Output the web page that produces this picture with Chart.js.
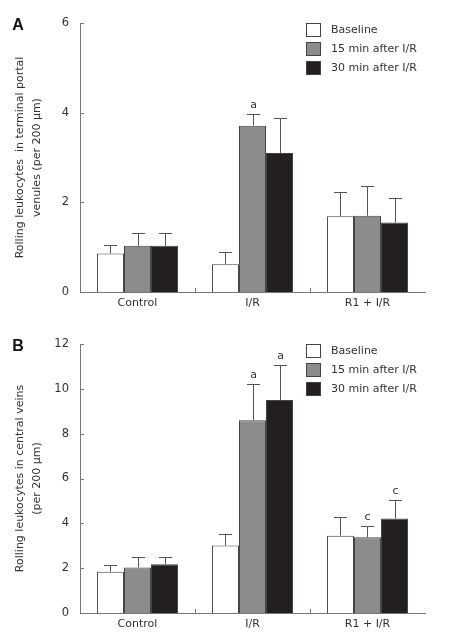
<!DOCTYPE html>
<html>
<head>
<meta charset="utf-8">
<script src="https://cdn.jsdelivr.net/npm/chart.js@4.4.1/dist/chart.umd.min.js"></script>
<style>
body { margin: 0; background: #fff; }
canvas { display: block; }
</style>
</head>
<body>
<canvas id="chartA" width="450" height="320"></canvas>
<canvas id="chartB" width="450" height="321"></canvas>
<script>
const groups = ['Control', 'I/R', 'R1 + I/R'];
const seriesNames = ['Baseline', '15 min after I/R', '30 min after I/R'];
const seriesColors = ['#ffffff', '#8c8c8e', '#231f20'];

// A: terminal portal venules
const baselineA = [0.86, 0.62, 1.69];
const min15A = [1.03, 3.71, 1.70];
const min30A = [1.03, 3.10, 1.55];
const baselineErrA = [0.19, 0.28, 0.53];
const min15ErrA = [0.29, 0.26, 0.66];
const min30ErrA = [0.28, 0.79, 0.55];
const baselineMarkA = ['', '', ''];
const min15MarkA = ['', 'a', ''];
const min30MarkA = ['', '', ''];

// B: central veins
const baselineB = [1.84, 3.01, 3.45];
const min15B = [2.03, 8.6, 3.38];
const min30B = [2.18, 9.5, 4.22];
const baselineErrB = [0.32, 0.52, 0.85];
const min15ErrB = [0.47, 1.6, 0.49];
const min30ErrB = [0.32, 1.55, 0.83];
const baselineMarkB = ['', '', ''];
const min15MarkB = ['', 'a', 'c'];
const min30MarkB = ['', 'a', 'c'];

const FONT = 'DejaVu Sans';
const TEXT = '#333';
const AXIS = '#777';

const errorBarPlugin = {
    id: 'errorBars',
    afterDatasetsDraw(chart) {
        const ctx = chart.ctx;
        const y = chart.scales.y;
        chart.data.datasets.forEach((ds, i) => {
            chart.getDatasetMeta(i).data.forEach((bar, j) => {
                const x = Math.round(bar.x) + 0.5;
                const top = Math.round(y.getPixelForValue(ds.data[j] + ds.errors[j])) + 0.5;
                ctx.save();
                ctx.strokeStyle = '#555';
                ctx.lineWidth = 1;
                ctx.beginPath();
                ctx.moveTo(x, bar.y);
                ctx.lineTo(x, top);
                ctx.moveTo(x - 6.5, top);
                ctx.lineTo(x + 6.5, top);
                ctx.stroke();
                if (ds.marks[j]) {
                    ctx.fillStyle = TEXT;
                    ctx.font = '11px "' + FONT + '"';
                    ctx.textAlign = 'center';
                    ctx.textBaseline = 'bottom';
                    ctx.fillText(ds.marks[j], x, top - 4);
                }
                ctx.restore();
            });
        });
    }
};

const decorPlugin = {
    id: 'decor',
    afterDraw(chart) {
        const ctx = chart.ctx;
        const area = chart.chartArea;
        const xs = chart.scales.x;
        const ys = chart.scales.y;
        ctx.save();
        // inward tick marks
        ctx.strokeStyle = AXIS;
        ctx.lineWidth = 1;
        ctx.beginPath();
        ys.ticks.forEach((t, i) => {
            const py = Math.round(ys.getPixelForTick(i)) + 0.5;
            ctx.moveTo(area.left, py);
            ctx.lineTo(area.left + 4, py);
        });
        for (let i = 1; i < xs.ticks.length; i++) {
            const px = Math.round((xs.getPixelForTick(i - 1) + xs.getPixelForTick(i)) / 2) + 0.5;
            ctx.moveTo(px, area.bottom);
            ctx.lineTo(px, area.bottom - 4);
        }
        ctx.stroke();

        // legend inside plot
        const lx = area.right - 119;
        ctx.font = '11px "' + FONT + '"';
        ctx.textBaseline = 'middle';
        ctx.textAlign = 'left';
        chart.data.datasets.forEach((ds, i) => {
            const ly = area.top + i * 19;
            ctx.fillStyle = ds.backgroundColor;
            ctx.fillRect(lx, ly, 15, 14);
            ctx.strokeStyle = '#444';
            ctx.strokeRect(lx + 0.5, ly + 0.5, 14, 13);
            ctx.fillStyle = TEXT;
            ctx.fillText(ds.label, lx + 25, ly + 7.5);
        });

        // panel letter
        ctx.fillStyle = '#111';
        ctx.font = 'bold 16px "Liberation Sans"';
        ctx.textAlign = 'center';
        ctx.fillText(chart.options.panelLetter, 18, area.top + 3);
        ctx.restore();
    }
};

function makeChart(id, letter, values, errors, marks, yMax, titleLines, topPad, xHeight) {
    const ctx = document.getElementById(id).getContext('2d');
    return new Chart(ctx, {
        type: 'bar',
        data: {
            labels: groups,
            datasets: seriesNames.map((name, i) => ({
                label: name,
                data: values[i],
                errors: errors[i],
                marks: marks[i],
                backgroundColor: seriesColors[i],
                borderColor: '#444',
                borderWidth: 1,
                categoryPercentage: 0.705,
                barPercentage: 1.0
            }))
        },
        options: {
            panelLetter: letter,
            responsive: false,
            animation: false,
            devicePixelRatio: 1,
            layout: { padding: { top: topPad, right: 25, bottom: 0, left: 0 } },
            plugins: {
                legend: { display: false },
                tooltip: { enabled: false }
            },
            scales: {
                x: {
                    grid: { display: false, drawTicks: false },
                    border: { display: true, color: AXIS },
                    ticks: { color: TEXT, font: { family: FONT, size: 11 }, padding: 5 },
                    afterFit: (scale) => { scale.height = xHeight; }
                },
                y: {
                    min: 0,
                    max: yMax,
                    grid: { display: false, drawTicks: false },
                    border: { display: true, color: AXIS },
                    ticks: { stepSize: 2, color: TEXT, font: { family: FONT, size: 11.5 }, padding: 11 },
                    title: {
                        display: true,
                        text: titleLines,
                        color: TEXT,
                        font: { family: FONT, size: 11, lineHeight: 1.5 },
                        padding: { top: 12, bottom: 0 }
                    },
                    afterFit: (scale) => { scale.width = 80; }
                }
            }
        },
        plugins: [errorBarPlugin, decorPlugin]
    });
}

makeChart('chartA', 'A',
    [baselineA, min15A, min30A],
    [baselineErrA, min15ErrA, min30ErrA],
    [baselineMarkA, min15MarkA, min30MarkA],
    6,
    ['Rolling leukocytes  in terminal portal', 'venules (per 200 \u03bcm)'],
    23, 28);

makeChart('chartB', 'B',
    [baselineB, min15B, min30B],
    [baselineErrB, min15ErrB, min30ErrB],
    [baselineMarkB, min15MarkB, min30MarkB],
    12,
    ['Rolling leukocytes in central veins', '(per 200 \u03bcm)'],
    24, 28);
</script>
</body>
</html>
